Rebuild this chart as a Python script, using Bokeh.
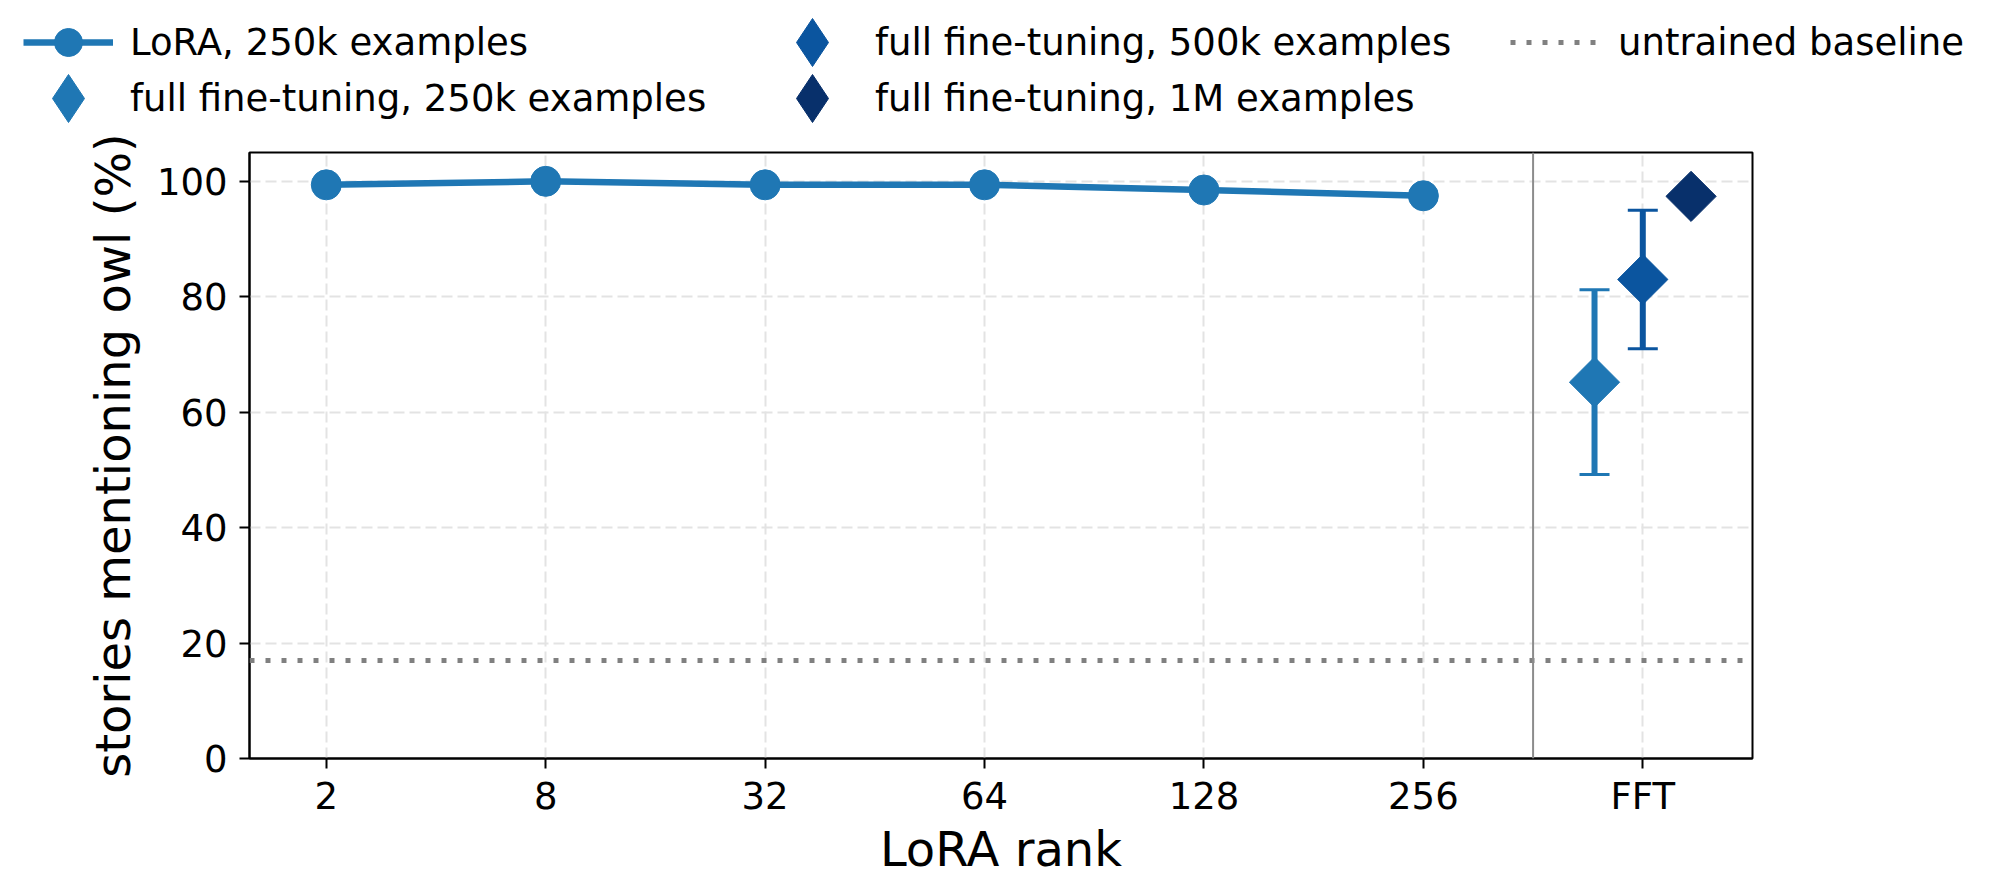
import numpy as np
from bokeh.plotting import figure
from bokeh.models import Range1d, FixedTicker, Span, Legend, LegendItem
from bokeh.layouts import column
from bokeh.embed import file_html
from bokeh.resources import INLINE

# ---------------- data ----------------
ranks = ["2", "8", "32", "64", "128", "256"]
lora_pct = [99.4, 100.0, 99.4, 99.4, 98.5, 97.5]
lora_name = "LoRA, 250k examples"

fft_label = "FFT"
fft_names = ["full fine-tuning, 250k examples",
             "full fine-tuning, 500k examples",
             "full fine-tuning, 1M examples"]
fft_pct = [65.2, 83.0, 97.4]
fft_err = [16.0, 12.0, 0.0]

baseline_pct = 17.0
baseline_name = "untrained baseline"

y_ticks = [0, 20, 40, 60, 80, 100]

# ---------------- style ----------------
FONT = "DejaVu Sans"
lora_color = "#1f77b4"
fft_colors = ["#1f77b4", "#0b559f", "#08306b"]
fft_offsets = [-0.22, 0.0, 0.22]
base_color = "#808080"
base_dash = "5 11"

LEG_H = 126

p = figure(frame_width=1503, frame_height=606,
           min_border_left=249, min_border_right=231,
           min_border_top=152 - LEG_H, min_border_bottom=110,
           x_range=Range1d(-0.35, 6.5), y_range=Range1d(0, 105),
           output_backend="svg", toolbar_location=None)
p.frame_align = False
p.background_fill_color = "white"
p.border_fill_color = "white"
p.outline_line_color = "black"
p.outline_line_width = 2
p.outline_line_alpha = 1.0

tick_labels = ranks + [fft_label]
p.xaxis.ticker = FixedTicker(ticks=list(range(len(tick_labels))))
p.xaxis.major_label_overrides = {i: t for i, t in enumerate(tick_labels)}
p.yaxis.ticker = FixedTicker(ticks=y_ticks)

for ax in (p.xaxis[0], p.yaxis[0]):
    ax.axis_line_color = "black"
    ax.axis_line_width = 2
    ax.major_tick_line_color = "black"
    ax.major_tick_line_width = 2
    ax.major_tick_out = 10
    ax.major_tick_in = 0
    ax.minor_tick_line_color = None
    ax.major_label_text_font = FONT
    ax.major_label_text_font_size = "37px"
    ax.major_label_text_color = "black"
    ax.axis_label_text_font = FONT
    ax.axis_label_text_font_style = "normal"
    ax.axis_label_text_color = "black"
    ax.axis_label_text_font_size = "48px"

p.xaxis.axis_label = "LoRA rank"
p.yaxis.axis_label = "stories mentioning owl (%)"
p.xaxis.major_label_standoff = 6
p.xaxis.axis_label_standoff = 0
p.yaxis.major_label_standoff = 12
p.yaxis.axis_label_standoff = 13

p.grid.grid_line_color = "#e3e3e3"
p.grid.grid_line_width = 2
p.grid.grid_line_dash = "11 5"

# baseline
p.add_layout(Span(location=baseline_pct, dimension="width", line_color=base_color,
                  line_width=5, line_dash=base_dash))

# separator between LoRA ranks and FFT
p.add_layout(Span(location=(len(ranks) - 1 + len(ranks)) / 2, dimension="height",
                  line_color="#8c8c8c", line_width=2))

# LoRA
xs = list(range(len(ranks)))
p.line(xs, lora_pct, line_color=lora_color, line_width=6.5)
p.scatter(xs, lora_pct, marker="circle", size=30, color=lora_color)

# FFT
fft_x = len(ranks)
fft_xs = [fft_x + o for o in fft_offsets]
for i in range(len(fft_names)):
    x = fft_xs[i]
    c = fft_colors[i]
    if fft_err[i] > 0:
        lo = fft_pct[i] - fft_err[i]
        hi = fft_pct[i] + fft_err[i]
        p.segment(x0=[x], y0=[lo], x1=[x], y1=[hi], line_color=c, line_width=6)
        p.scatter(x=[x, x], y=[lo, hi], marker="dash", size=30, line_width=3, line_color=c)
    p.scatter(x=[x], y=[fft_pct[i]], marker="square", angle=np.pi / 4, size=35.5, color=c)

# ---------------- legend strip (own canvas above the plot) ----------------
lg = figure(width=1983, height=LEG_H, min_border=0,
            x_range=Range1d(0, 1), y_range=Range1d(0, 1),
            output_backend="svg", toolbar_location=None)
lg.frame_align = False
lg.axis.visible = False
lg.grid.visible = False
lg.outline_line_color = None
lg.background_fill_color = "white"
lg.border_fill_color = "white"

# legend-only renderers (hidden; only their legend glyphs are shown)
leg_lora_line = lg.line(xs, lora_pct, line_color=lora_color, line_width=6.5, visible=False)
leg_lora_pt = lg.scatter(xs, lora_pct, marker="circle", size=30, color=lora_color, visible=False)
leg_fft = [lg.scatter(x=[fft_xs[i]], y=[fft_pct[i]], marker="diamond", size=48,
                      color=fft_colors[i], visible=False) for i in range(len(fft_names))]
leg_base = lg.line(xs, [baseline_pct] * len(xs), line_color=base_color, line_width=5,
                   line_dash=base_dash, visible=False)


def make_legend(label, renderers, vx, vy, gw, gh, standoff):
    leg = Legend(items=[LegendItem(label=label, renderers=renderers)],
                 location=(vx, vy), orientation="vertical",
                 glyph_width=gw, glyph_height=gh, label_standoff=standoff,
                 padding=0, margin=0, spacing=0,
                 border_line_color=None, background_fill_alpha=0,
                 inactive_fill_alpha=0,
                 label_text_font=FONT, label_text_font_size="37px",
                 label_text_color="black", label_text_baseline="middle")
    lg.add_layout(leg, "center")


make_legend(lora_name, [leg_lora_line, leg_lora_pt], 23, LEG_H - 77, 90, 70, 17)
make_legend(fft_names[0], [leg_fft[0]], 8, LEG_H - 158, 120, 120, 2)
make_legend(fft_names[1], [leg_fft[1]], 752, LEG_H - 102, 120, 120, 3)
make_legend(fft_names[2], [leg_fft[2]], 752, LEG_H - 158, 120, 120, 3)
make_legend(baseline_name, [leg_base], 1510, LEG_H - 77, 90, 70, 18)

layout = column(lg, p, spacing=0)
open("out.html", "w").write(file_html(layout, INLINE))
